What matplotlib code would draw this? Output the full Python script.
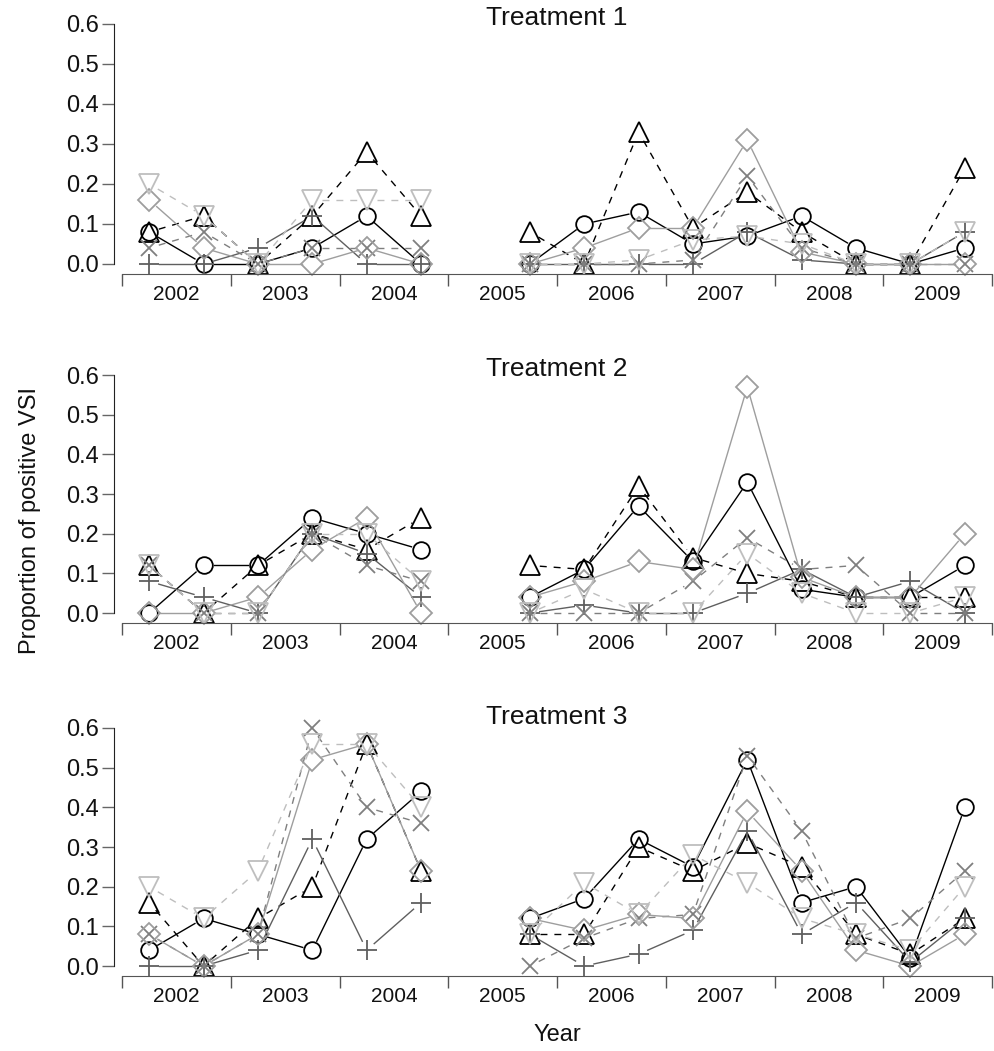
import numpy as np
import matplotlib
matplotlib.use('Agg')
import matplotlib.pyplot as plt

plt.rcParams['font.family'] = ['Liberation Sans', 'DejaVu Sans']

nan = np.nan

years = [2002, 2003, 2004, 2005, 2006, 2007, 2008, 2009]
year_edges = [2002, 2003, 2004, 2005, 2006, 2007, 2008, 2009, 2010]
year_labels = ['2002', '2003', '2004', '2005', '2006', '2007', '2008', '2009']
sample_times = [2002.25, 2002.75, 2003.25, 2003.75, 2004.25, 2004.75,
                2005.25, 2005.75, 2006.25, 2006.75, 2007.25, 2007.75,
                2008.25, 2008.75, 2009.25, 2009.75]

# Treatment 1
t1_circle = [0.08, 0.00, 0.00, 0.04, 0.12, 0.00, nan, 0.00, 0.10, 0.13, 0.05, 0.07, 0.12, 0.04, 0.00, 0.04]
t1_tri_up = [0.08, 0.12, 0.00, 0.12, 0.28, 0.12, nan, 0.08, 0.00, 0.33, 0.09, 0.18, 0.08, 0.00, 0.00, 0.24]
t1_plus = [0.00, 0.00, 0.04, 0.12, 0.00, 0.00, nan, 0.00, 0.00, 0.00, 0.00, 0.08, 0.01, 0.00, 0.00, 0.08]
t1_cross = [0.04, 0.08, 0.00, 0.04, 0.04, 0.04, nan, 0.00, 0.00, 0.00, 0.01, 0.22, 0.04, 0.00, 0.00, 0.00]
t1_diamond = [0.16, 0.04, 0.00, 0.00, 0.04, 0.00, nan, 0.00, 0.04, 0.09, 0.09, 0.31, 0.03, 0.00, 0.00, 0.00]
t1_tri_down = [0.20, 0.12, 0.00, 0.16, 0.16, 0.16, nan, 0.00, 0.00, 0.01, 0.06, 0.07, 0.05, 0.00, 0.00, 0.08]

# Treatment 2
t2_circle = [0.00, 0.12, 0.12, 0.24, 0.20, 0.16, nan, 0.04, 0.11, 0.27, 0.13, 0.33, 0.06, 0.04, 0.04, 0.12]
t2_tri_up = [0.12, 0.00, 0.12, 0.20, 0.16, 0.24, nan, 0.12, 0.11, 0.32, 0.14, 0.10, 0.08, 0.04, 0.04, 0.04]
t2_plus = [0.08, 0.04, 0.00, 0.20, 0.15, 0.04, nan, 0.00, 0.02, 0.00, 0.00, 0.05, 0.11, 0.04, 0.08, 0.00]
t2_cross = [0.12, 0.00, 0.00, 0.20, 0.12, 0.08, nan, 0.00, 0.00, 0.00, 0.08, 0.19, 0.11, 0.12, 0.00, 0.00]
t2_diamond = [0.00, 0.00, 0.04, 0.16, 0.24, 0.00, nan, 0.04, 0.08, 0.13, 0.11, 0.57, 0.09, 0.04, 0.04, 0.20]
t2_tri_down = [0.12, 0.00, 0.00, 0.20, 0.20, 0.08, nan, 0.00, 0.06, 0.00, 0.00, 0.15, 0.05, 0.00, 0.00, 0.04]

# Treatment 3
t3_circle = [0.04, 0.12, 0.08, 0.04, 0.32, 0.44, nan, 0.12, 0.17, 0.32, 0.25, 0.52, 0.16, 0.20, 0.02, 0.40]
t3_tri_up = [0.16, 0.00, 0.12, 0.20, 0.56, 0.24, nan, 0.08, 0.08, 0.30, 0.24, 0.31, 0.25, 0.08, 0.03, 0.12]
t3_plus = [0.00, 0.00, 0.04, 0.32, 0.04, 0.16, nan, 0.08, 0.00, 0.03, 0.09, 0.34, 0.08, 0.16, 0.01, 0.12]
t3_cross = [0.08, 0.00, 0.08, 0.60, 0.40, 0.36, nan, 0.00, 0.07, 0.12, 0.13, 0.53, 0.34, 0.07, 0.12, 0.24]
t3_diamond = [0.08, 0.00, 0.08, 0.52, 0.56, 0.24, nan, 0.12, 0.09, 0.13, 0.12, 0.39, 0.24, 0.04, 0.00, 0.08]
t3_tri_down = [0.20, 0.12, 0.24, 0.56, 0.56, 0.40, nan, 0.08, 0.21, 0.13, 0.28, 0.21, 0.12, 0.08, 0.04, 0.20]

titles = ['Treatment 1', 'Treatment 2', 'Treatment 3']
panels = [
    [t1_circle, t1_tri_up, t1_plus, t1_cross, t1_diamond, t1_tri_down],
    [t2_circle, t2_tri_up, t2_plus, t2_cross, t2_diamond, t2_tri_down],
    [t3_circle, t3_tri_up, t3_plus, t3_cross, t3_diamond, t3_tri_down],
]

dash = (0, (5, 5))
styles = [
    dict(marker='o', color='black', ls='-', ms=12),
    dict(marker='^', color='black', ls=dash, ms=14.5),
    dict(marker='+', color='#5f5f5f', ls='-', ms=14.5),
    dict(marker='x', color='#7f7f7f', ls=dash, ms=11.5),
    dict(marker='D', color='#9e9e9e', ls='-', ms=11),
    dict(marker='v', color='#bebebe', ls=dash, ms=14.5),
]
gap_px = 10


def gapped_line(ax, xs, ys, color, ls):
    # like R's type="b": lines stop short of the points
    xs = np.asarray(xs, float)
    ys = np.asarray(ys, float)
    pts = ax.transData.transform(np.column_stack([xs, ys]))
    inv = ax.transData.inverted()
    for i in range(len(xs) - 1):
        if np.isnan(ys[i]) or np.isnan(ys[i + 1]):
            continue
        d = pts[i + 1] - pts[i]
        L = np.hypot(d[0], d[1])
        if L <= 2 * gap_px:
            continue
        u = d / L
        a = inv.transform(pts[i] + u * gap_px)
        b = inv.transform(pts[i + 1] - u * gap_px)
        ax.plot([a[0], b[0]], [a[1], b[1]], color=color, ls=ls, lw=1.0,
                clip_on=False)


fig = plt.figure(figsize=(9.95, 10.51), dpi=100)
W, H = 995.0, 1051.0

# pixel rows: (x-axis line, 0.6 line, title centre)
rows = [(274, 24, 18), (623, 375, 369), (976, 728, 717)]
x_left_px, x_right_px = 114, 994
px_per_year = (992 - 122) / 8.0
xlim = (2002 - 8 / px_per_year, 2010 + 2 / px_per_year)

for k, (bottom_px, top_px, title_px) in enumerate(rows):
    ax = fig.add_axes([x_left_px / W, 1 - bottom_px / H,
                       (x_right_px - x_left_px) / W, (bottom_px - top_px) / H])
    ax.set_xlim(*xlim)
    ax.set_ylim(-0.025, 0.6)
    for s in ['top', 'right']:
        ax.spines[s].set_visible(False)
    ax.spines['left'].set_bounds(0, 0.6)
    ax.spines['bottom'].set_bounds(2002, 2010)
    ax.spines['left'].set_color('#222222')
    ax.spines['bottom'].set_color('#555555')
    ax.set_yticks([0, 0.1, 0.2, 0.3, 0.4, 0.5, 0.6])
    ax.set_yticklabels(['0.0', '0.1', '0.2', '0.3', '0.4', '0.5', '0.6'])
    ax.tick_params(axis='y', length=8.6, width=1, color='#666666', pad=2,
                   labelsize=17, labelcolor='#111111')
    ax.set_xticks(year_edges)
    ax.set_xticklabels([])
    ax.set_xticks([y + 0.5 for y in years], minor=True)
    ax.set_xticklabels(year_labels, minor=True)
    ax.tick_params(axis='x', which='major', length=8.6, width=1, color='#555555')
    ax.tick_params(axis='x', which='minor', length=0, pad=8, labelsize=15,
                   labelcolor='#111111')

    for series, st in zip(panels[k], styles):
        gapped_line(ax, sample_times, series, st['color'], st['ls'])
        ax.plot(sample_times, series, ls='none', marker=st['marker'],
                ms=st['ms'], mfc='none', mec=st['color'], mew=1.3,
                clip_on=False)

    fig.text(557 / W, 1 - title_px / H, titles[k], ha='center', va='center',
             fontsize=19, color='#111111')

fig.text(30 / W, 1 - 520 / H, 'Proportion of positive VSI', rotation=90,
         ha='center', va='center', fontsize=17, color='#111111')
fig.text(557 / W, 1 - 1035 / H, 'Year', ha='center', va='center',
         fontsize=17, color='#111111')

fig.savefig('out.png', dpi=100)
